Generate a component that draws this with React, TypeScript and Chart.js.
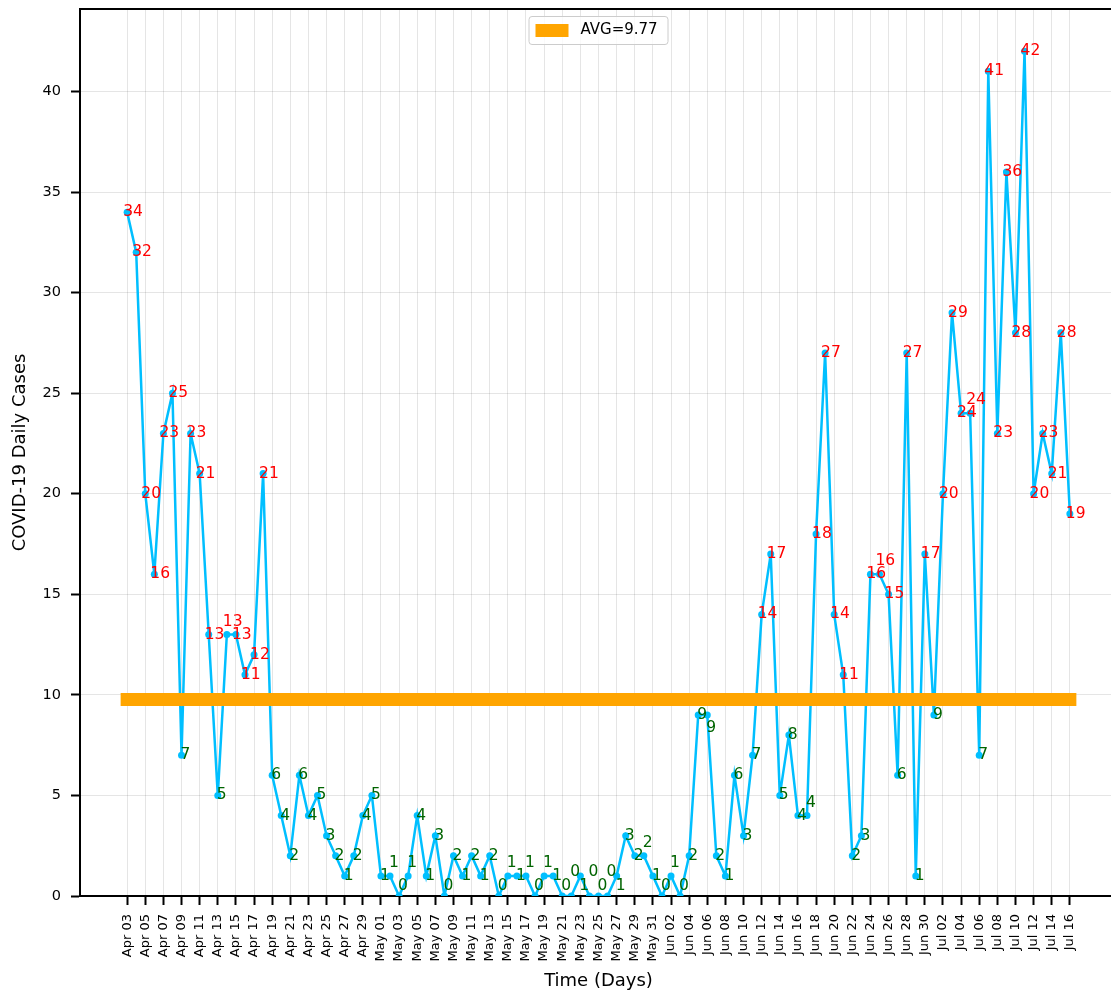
import React, { useEffect, useRef } from "react";
import { Chart, registerables } from "chart.js";

Chart.register(...registerables);

const DATES: string[] = [
  "Apr 03", "Apr 04", "Apr 05", "Apr 06", "Apr 07", "Apr 08", "Apr 09", "Apr 10", "Apr 11", "Apr 12",
  "Apr 13", "Apr 14", "Apr 15", "Apr 16", "Apr 17", "Apr 18", "Apr 19", "Apr 20", "Apr 21", "Apr 22",
  "Apr 23", "Apr 24", "Apr 25", "Apr 26", "Apr 27", "Apr 28", "Apr 29", "Apr 30",
  "May 01", "May 02", "May 03", "May 04", "May 05", "May 06", "May 07", "May 08", "May 09", "May 10",
  "May 11", "May 12", "May 13", "May 14", "May 15", "May 16", "May 17", "May 18", "May 19", "May 20",
  "May 21", "May 22", "May 23", "May 24", "May 25", "May 26", "May 27", "May 28", "May 29", "May 30", "May 31",
  "Jun 01", "Jun 02", "Jun 03", "Jun 04", "Jun 05", "Jun 06", "Jun 07", "Jun 08", "Jun 09", "Jun 10",
  "Jun 11", "Jun 12", "Jun 13", "Jun 14", "Jun 15", "Jun 16", "Jun 17", "Jun 18", "Jun 19", "Jun 20",
  "Jun 21", "Jun 22", "Jun 23", "Jun 24", "Jun 25", "Jun 26", "Jun 27", "Jun 28", "Jun 29", "Jun 30",
  "Jul 01", "Jul 02", "Jul 03", "Jul 04", "Jul 05", "Jul 06", "Jul 07", "Jul 08", "Jul 09", "Jul 10",
  "Jul 11", "Jul 12", "Jul 13", "Jul 14", "Jul 15", "Jul 16",
];

const DAILY_CASES: number[] = [
  34, 32, 20, 16, 23, 25, 7, 23, 21, 13,
  5, 13, 13, 11, 12, 21, 6, 4, 2, 6,
  4, 5, 3, 2, 1, 2, 4, 5,
  1, 1, 0, 1, 4, 1, 3, 0, 2, 1,
  2, 1, 2, 0, 1, 1, 1, 0, 1, 1,
  0, 0, 1, 0, 0, 0, 1, 3, 2, 2, 1,
  0, 1, 0, 2, 9, 9, 2, 1, 6, 3,
  7, 14, 17, 5, 8, 4, 4, 18, 27, 14,
  11, 2, 3, 16, 16, 15, 6, 27, 1, 17,
  9, 20, 29, 24, 24, 7, 41, 23, 36, 28,
  42, 20, 23, 21, 28, 19,
];

const Y_TICKS: number[] = [0, 5, 10, 15, 20, 25, 30, 35, 40];
const X_MIN = -5.2;
const X_MAX = 109.2;
const Y_MIN = 0;
const Y_MAX = 44.1;

const FONT = "'DejaVu Sans', sans-serif";

export default function App() {
  const ref = useRef<HTMLCanvasElement>(null);

  useEffect(() => {
    document.body.style.margin = "0";
    document.body.style.overflow = "hidden";
    const canvas = ref.current;
    if (!canvas) return;

    const avg = DAILY_CASES.reduce((a, b) => a + b, 0) / DAILY_CASES.length;

    const pointLabels = {
      id: "pointLabels",
      afterDatasetsDraw(chart: any) {
        const meta = chart.getDatasetMeta(1);
        const c = chart.ctx;
        const bottom = chart.chartArea.bottom;
        const bandY = chart.scales.y.getPixelForValue(avg);
        const placed: { x1: number; y1: number; x2: number; y2: number }[] = [];
        const overlaps = (b: any) =>
          placed.some((p) => b.x1 < p.x2 && b.x2 > p.x1 && b.y1 < p.y2 && b.y2 > p.y1);
        const inBand = (b: any) => b.y1 < bandY + 6.5 && b.y2 > bandY - 6.5;
        c.save();
        c.font = `15.5px ${FONT}`;
        c.textBaseline = "middle";
        c.textAlign = "left";
        meta.data.forEach((pt: any, i: number) => {
          const v = DAILY_CASES[i];
          const s = String(v);
          const w = c.measureText(s).width;
          const x0 = pt.x - (s.length > 1 ? 4 : 1);
          let chosen = Math.min(pt.y, bottom - 10);
          for (const dy of [0, -13, 13, -24, 24]) {
            const cy = Math.min(pt.y + dy, bottom - 10);
            const box = { x1: x0, y1: cy - 6, x2: x0 + w, y2: cy + 6 };
            if (dy !== 0 && inBand(box)) continue;
            if (!overlaps(box)) {
              chosen = cy;
              break;
            }
          }
          placed.push({ x1: x0, y1: chosen - 6, x2: x0 + w, y2: chosen + 6 });
          c.fillStyle = v > avg ? "#ff0000" : "#006400";
          c.fillText(s, x0, chosen);
        });
        c.restore();
      },
    };

    const frameAndLegend = {
      id: "frameAndLegend",
      afterDraw(chart: any) {
        const c = chart.ctx;
        const area = chart.chartArea;
        c.save();
        c.strokeStyle = "#000";
        c.lineWidth = 2;
        c.beginPath();
        c.moveTo(area.left, area.top);
        c.lineTo(area.right, area.top);
        c.stroke();
        c.beginPath();
        c.moveTo(area.right, area.top);
        c.lineTo(area.right, area.bottom);
        c.stroke();

        const cx = chart.scales.x.getPixelForValue((X_MIN + X_MAX) / 2);
        const top = area.top;
        c.beginPath();
        c.roundRect(cx - 69.5, top + 7.5, 139, 28, 3);
        c.fillStyle = "rgba(255,255,255,0.8)";
        c.fill();
        c.strokeStyle = "#cccccc";
        c.lineWidth = 1;
        c.stroke();
        c.fillStyle = "#FFA500";
        c.fillRect(cx - 63, top + 15, 33, 13);
        c.fillStyle = "#000";
        c.font = `15px ${FONT}`;
        c.textBaseline = "middle";
        c.textAlign = "left";
        c.fillText("AVG=" + avg.toFixed(2), cx - 18, top + 21.5);
        c.restore();
      },
    };

    const chart = new Chart(canvas, {
      type: "line",
      data: {
        datasets: [
          {
            label: "AVG=" + avg.toFixed(2),
            data: [
              { x: 0, y: avg },
              { x: DAILY_CASES.length - 1, y: avg },
            ],
            borderColor: "#FFA500",
            backgroundColor: "#FFA500",
            borderWidth: 13,
            borderCapStyle: "square",
            pointRadius: 0,
            fill: false,
            order: 0,
          },
          {
            label: "Daily cases",
            data: DAILY_CASES.map((v, i) => ({ x: i, y: v })),
            borderColor: "#00BFFF",
            backgroundColor: "#00BFFF",
            borderWidth: 2.5,
            pointRadius: 3.5,
            pointBorderWidth: 0,
            pointBackgroundColor: "#00BFFF",
            tension: 0,
            fill: false,
            order: 1,
          },
        ],
      },
      options: {
        animation: false,
        responsive: false,
        devicePixelRatio: 1,
        layout: { padding: { top: 9, right: 1, left: 0, bottom: 0 } },
        plugins: {
          legend: { display: false },
          tooltip: { enabled: false },
        },
        scales: {
          x: {
            type: "linear",
            min: X_MIN,
            max: X_MAX,
            afterBuildTicks: (s: any) => {
              s.ticks = DATES.map((_, i) => i)
                .filter((i) => i % 2 === 0)
                .map((v) => ({ value: v }));
            },
            afterFit: (s: any) => {
              s.height = 94;
              s.paddingLeft = 0;
              s.paddingRight = 0;
            },
            ticks: {
              autoSkip: false,
              minRotation: 90,
              maxRotation: 90,
              padding: 9,
              color: "#000",
              font: { family: FONT, size: 13 },
              callback: (v: any) => DATES[v as number] ?? "",
            },
            grid: {
              color: "rgba(0,0,0,0.1)",
              lineWidth: 1,
              tickColor: "#000",
              tickLength: 9,
              tickWidth: 2,
            },
            border: { color: "#000", width: 2 },
            title: {
              display: true,
              text: "Time (Days)",
              color: "#000",
              font: { family: FONT, size: 18, lineHeight: 1 },
              padding: { top: 0, bottom: 0 },
            },
          },
          y: {
            type: "linear",
            min: Y_MIN,
            max: Y_MAX,
            afterBuildTicks: (s: any) => {
              s.ticks = Y_TICKS.map((v) => ({ value: v }));
            },
            afterFit: (s: any) => {
              s.width = 80;
              s.paddingTop = 0;
              s.paddingBottom = 0;
            },
            ticks: {
              padding: 10,
              color: "#000",
              font: { family: FONT, size: 14.5 },
              callback: (v: any) => String(v),
            },
            grid: {
              color: "rgba(0,0,0,0.1)",
              lineWidth: 1,
              tickColor: "#000",
              tickLength: 9,
              tickWidth: 2,
            },
            border: { color: "#000", width: 2 },
            title: {
              display: true,
              text: "COVID-19 Daily Cases",
              color: "#000",
              font: { family: FONT, size: 18, lineHeight: 1 },
              padding: { top: 11, bottom: 0 },
            },
          },
        },
      },
      plugins: [pointLabels, frameAndLegend],
    } as any);

    return () => chart.destroy();
  }, []);

  return (
    <div
      style={{
        position: "fixed",
        left: 0,
        top: 0,
        width: 1111,
        height: 990,
        overflow: "hidden",
        background: "#fff",
      }}
    >
      <canvas ref={ref} width={1121} height={990} style={{ display: "block", width: 1121, height: 990 }} />
    </div>
  );
}
